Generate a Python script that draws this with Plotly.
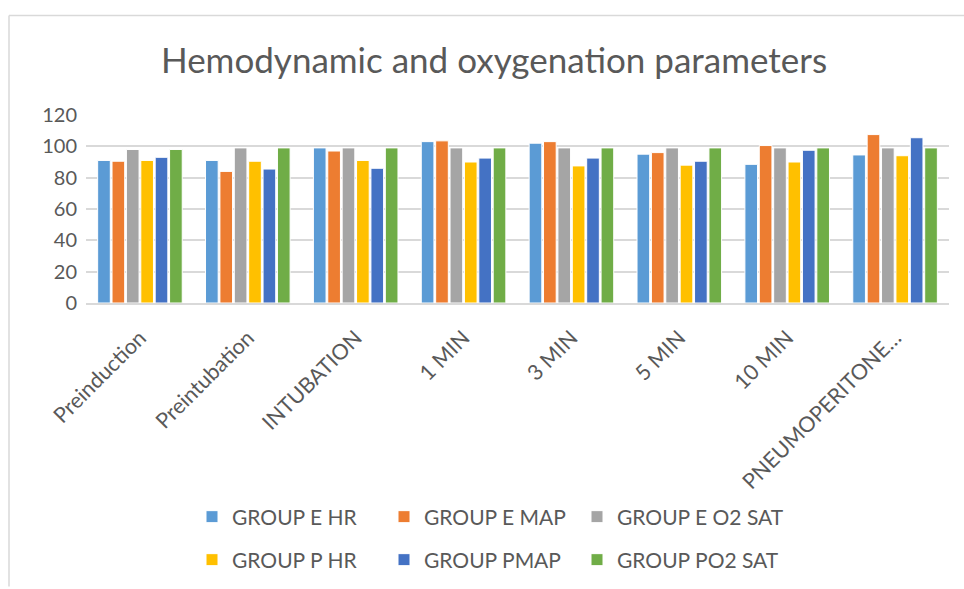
import plotly.graph_objects as go

categories = ["Preinduction", "Preintubation", "INTUBATION", "1 MIN", "3 MIN",
              "5 MIN", "10 MIN", "PNEUMOPERITONE…"]
group_e_hr = [91, 91, 99, 103, 102, 95, 88.5, 94.5]
group_e_map = [90.5, 84, 97, 103.5, 103, 96, 100.5, 107.5]
group_e_o2 = [98, 99, 99, 99, 99, 99, 99, 99]
group_p_hr = [91, 90.5, 91, 90, 87.5, 88, 90, 94]
group_pmap = [93, 85.5, 86, 92.5, 92.5, 90.5, 97.5, 105.5]
group_po2 = [98, 99, 99, 99, 99, 99, 99, 99]

series_names = ["GROUP E HR", "GROUP E MAP", "GROUP E O2 SAT",
                "GROUP P HR", "GROUP PMAP", "GROUP PO2 SAT"]
series_values = [group_e_hr, group_e_map, group_e_o2, group_p_hr, group_pmap, group_po2]
colors = ["#5B9BD5", "#ED7D31", "#A5A5A5", "#FFC000", "#4472C4", "#70AD47"]

FONT = "Lato, 'Open Sans', sans-serif"
TXT = "#595959"

L, R, T, B = 86, 15, 115, 285
W, H = 964, 589
pw, ph = W - L - R, H - T - B


def px(x):
    return (x - L) / pw


def py(y):
    return (H - B - y) / ph


legend_ids = ["legend", "legend2", "legend3", "legend4", "legend5", "legend6"]
text_x = [233, 425, 618]
row_y = [517, 560]

fig = go.Figure()
layout_legends = {}
for i, (name, vals, color) in enumerate(zip(series_names, series_values, colors)):
    lid = legend_ids[i]
    fig.add_trace(go.Bar(x=categories, y=vals, name=name, legend=lid,
                         marker=dict(color=color, line=dict(color="white", width=1))))
    col, row = i % 3, i // 3
    layout_legends[lid] = dict(
        orientation="h", xanchor="left", yanchor="middle",
        x=px(text_x[col] - 41), y=py(row_y[row]),
        font=dict(family=FONT, size=21, color=TXT),
        itemwidth=30, bgcolor="rgba(0,0,0,0)")

fig.update_layout(
    width=W, height=H,
    margin=dict(l=L, r=R, t=T, b=B),
    paper_bgcolor="white", plot_bgcolor="white",
    title=dict(text="Hemodynamic and oxygenation parameters",
               x=494 / W, xanchor="center", y=1 - 61 / H, yanchor="middle",
               font=dict(family=FONT, size=35, color=TXT)),
    barmode="group", bargap=0.2, bargroupgap=0.12,
    showlegend=True,
    xaxis=dict(tickangle=-45, tickfont=dict(family=FONT, size=21.5, color=TXT),
               showline=True, linecolor="#D9D9D9", linewidth=1.5, ticks="",
               showgrid=False, ticklabelstandoff=12),
    yaxis=dict(range=[0, 120], dtick=20, tickfont=dict(family=FONT, size=20, color=TXT),
               gridcolor="#D9D9D9", gridwidth=1.5, zeroline=False, showline=False,
               ticks="", ticklabelstandoff=8),
    shapes=[
        dict(type="line", xref="paper", yref="paper", x0=px(9), x1=px(964),
             y0=py(15), y1=py(15), line=dict(color="#D9D9D9", width=1.5)),
        dict(type="line", xref="paper", yref="paper", x0=px(9), x1=px(9),
             y0=py(15), y1=py(589), line=dict(color="#D9D9D9", width=1.5)),
    ],
    **layout_legends,
)

fig.write_html("out.html", config={"displayModeBar": False},
               post_script="document.body.style.margin='0';")
